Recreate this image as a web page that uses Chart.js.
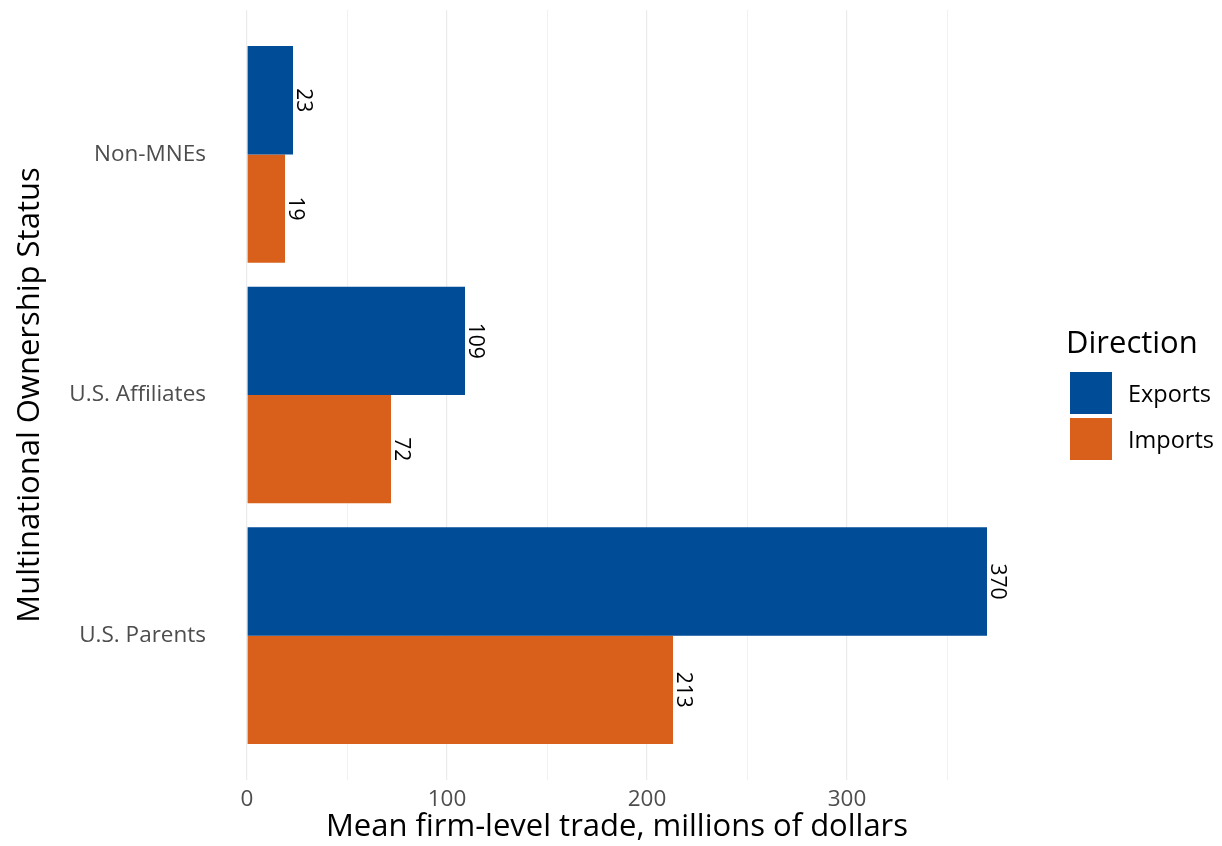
<!DOCTYPE html>
<html>
<head>
<meta charset="utf-8">
<script src="https://cdn.jsdelivr.net/npm/chart.js@4"></script>
<style>
  html, body { margin: 0; padding: 0; background: #fff; }
  #wrap { position: relative; width: 1222px; height: 846px; }
  #legend { position: absolute; left: 1066px; top: 320px; font-family: "Open Sans", sans-serif; color: #000; }
  #legend .titulo { font-size: 31px; line-height: 42px; margin-bottom: 8px; }
  #legend .item { display: flex; align-items: center; height: 46px; font-size: 23.5px; }
  #legend .caja { width: 42px; height: 42px; margin-left: 4px; margin-right: 16px; }
</style>
</head>
<body>
<div id="wrap">
  <canvas id="grafica" width="1222" height="846"></canvas>
  <div id="legend"></div>
</div>
<script>
// Datos
const categorias = ["Non-MNEs", "U.S. Affiliates", "U.S. Parents"];
const exportaciones = [23, 109, 370];
const importaciones = [19, 72, 213];
const ticksX = [0, 50, 100, 150, 200, 250, 300, 350];
const colorExport = "#004c97";
const colorImport = "#d9601a";

// Leyenda en HTML
const legend = document.getElementById("legend");
legend.innerHTML = '<div class="titulo">Direction</div>' +
  '<div class="item"><span class="caja" style="background:' + colorExport + '"></span>Exports</div>' +
  '<div class="item"><span class="caja" style="background:' + colorImport + '"></span>Imports</div>';

// Etiquetas de valor giradas 90 grados al final de cada barra
const etiquetasBarras = {
  id: "etiquetasBarras",
  afterDatasetsDraw(chart) {
    const ctx = chart.ctx;
    ctx.save();
    ctx.font = "21px 'Open Sans', sans-serif";
    ctx.fillStyle = "#000";
    ctx.textAlign = "center";
    ctx.textBaseline = "bottom";
    chart.data.datasets.forEach((ds, i) => {
      chart.getDatasetMeta(i).data.forEach((barra, j) => {
        ctx.save();
        ctx.translate(barra.x - 1, barra.y);
        ctx.rotate(Math.PI / 2);
        ctx.fillText(String(ds.data[j].x), 0, 0);
        ctx.restore();
      });
    });
    ctx.restore();
  }
};

const aPuntos = (valores) => valores.map((v, i) => ({ x: v, y: i }));

new Chart(document.getElementById("grafica"), {
  type: "bar",
  data: {
    datasets: [
      { label: "Exports", data: aPuntos(exportaciones), backgroundColor: colorExport },
      { label: "Imports", data: aPuntos(importaciones), backgroundColor: colorImport }
    ]
  },
  options: {
    indexAxis: "y",
    responsive: false,
    animation: false,
    layout: { padding: { top: 10, right: 198, left: 0, bottom: 0 } },
    datasets: { bar: { categoryPercentage: 0.9, barPercentage: 1 } },
    plugins: { legend: { display: false }, tooltip: { enabled: false } },
    scales: {
      x: {
        type: "linear",
        min: -18.5,
        max: 388.5,
        afterBuildTicks: (eje) => { eje.ticks = ticksX.map(v => ({ value: v })); },
        afterFit: (eje) => { eje.height = 66; eje.paddingLeft = 0; eje.paddingRight = 0; },
        border: { display: false },
        grid: {
          color: "#ebebeb",
          lineWidth: (c) => (c.tick && c.tick.value % 100 === 0 ? 1.2 : 0.7),
          drawTicks: false
        },
        ticks: {
          padding: 6,
          color: "#4d4d4d",
          font: { family: "'Open Sans', sans-serif", size: 22.5 },
          callback: (v) => (v % 100 === 0 ? String(v) : "")
        },
        title: {
          display: true,
          text: "Mean firm-level trade, millions of dollars",
          color: "#000",
          font: { family: "'Open Sans', sans-serif", size: 31 },
          padding: { top: 0, bottom: 0 }
        }
      },
      y: {
        type: "linear",
        reverse: true,
        offset: false,
        min: -0.6,
        max: 2.6,
        afterBuildTicks: (eje) => { eje.ticks = categorias.map((c, i) => ({ value: i })); },
        afterFit: (eje) => { eje.width = 210; eje.paddingTop = 0; eje.paddingBottom = 0; },
        border: { display: false },
        grid: { display: false, drawTicks: false, offset: false },
        ticks: {
          padding: 4,
          color: "#4d4d4d",
          font: { family: "'Open Sans', sans-serif", size: 22.5 },
          callback: (v) => categorias[v] || ""
        },
        title: {
          display: true,
          text: "Multinational Ownership Status",
          color: "#000",
          font: { family: "'Open Sans', sans-serif", size: 31 },
          padding: { top: 12, bottom: 0 }
        }
      }
    }
  },
  plugins: [etiquetasBarras]
});
</script>
</body>
</html>
